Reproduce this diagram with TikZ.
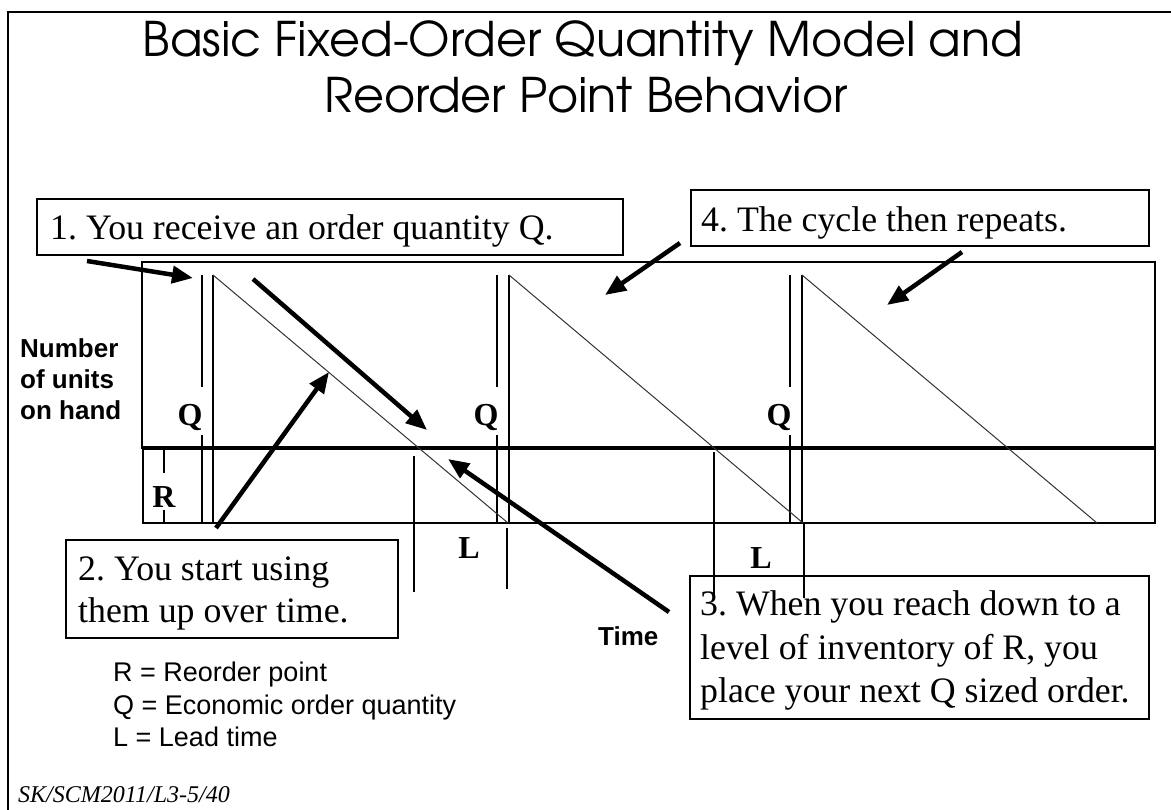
\documentclass[tikz,border=0pt]{standalone}
\usepackage{fontspec}
\setmainfont{Liberation Serif}
\newfontfamily\arialfont{Liberation Sans}
\newfontfamily\gothicfont{TeX Gyre Adventor}
\usetikzlibrary{arrows.meta}
\frenchspacing
\begin{document}
\begin{tikzpicture}[x=1pt,y=-1pt,
  boxframe/.style={draw, line width=1.6pt, inner sep=0pt, anchor=north west},
  boxtxt/.style={anchor=base west, inner sep=0pt, font=\fontsize{35.8}{42}\selectfont},
  lbl/.style={anchor=base, inner sep=0pt, font=\bfseries\fontsize{32}{36}\selectfont},
  sanstxt/.style={anchor=base west, inner sep=0pt, font=\arialfont\fontsize{27}{30}\selectfont},
  sansbold/.style={anchor=base west, inner sep=0pt, font=\arialfont\bfseries\fontsize{26}{30}\selectfont},
  titletxt/.style={anchor=base, inner sep=0pt, font=\gothicfont\fontsize{47.7}{55}\selectfont},
  chartline/.style={line width=1.5pt},
  vline/.style={line width=1.5pt},
  diag/.style={line width=1pt, black!80},
  bigarrow/.style={line width=4.5pt, -{Triangle[length=21pt,width=17pt]}},
]
\useasboundingbox (0,0) rectangle (1171,810);
% outer frame
\draw[line width=2pt] (8,810) -- (8,12) -- (1171,12);

% title
\node[titletxt] (t1) at (583,57) {Basic Fixed-Order Quantity Model and};
\node[titletxt] (t2) at (586,113) {Reorder Point Behavior};

% chart frame
\draw[chartline] (142,262) rectangle (1155,448);
\draw[chartline] (143,448) rectangle (1155,523);
\draw[line width=3.5pt] (142,448) -- (1155,448);

% order pairs
\foreach \xa/\xb in {202/213, 497/509, 790/802}{
  \draw[vline] (\xa,275) -- (\xa,387);
  \draw[vline] (\xa,435) -- (\xa,523);
  \draw[vline] (\xb,275) -- (\xb,523);
}
% diagonals
\draw[diag] (213,275) -- (508,523);
\draw[diag] (509,275) -- (803,523);
\draw[diag] (802,275) -- (1097,523);

% R marker
\draw[vline] (164,449) -- (164,473);
\draw[vline] (164,510) -- (164,523);
\node[lbl] (rlab) at (164,507) {R};

% Q labels
\node[lbl] (q1) at (190,426) {Q};
\node[lbl] (q2) at (486,426) {Q};
\node[lbl] (q3) at (779,426) {Q};

% lead time lines
\draw[vline] (414,456) -- (414,592);
\draw[vline] (507,528) -- (507,589);
\draw[vline] (714,452) -- (714,598);
\draw[vline] (804,524) -- (804,598);
\node[lbl] (l1) at (469,558) {L};
\node[lbl] (l2) at (761,568) {L};

% axis labels
\node[sansbold] (n1) at (20,358) {Number};
\node[sansbold] (n2) at (20,389) {of units};
\node[sansbold] (n3) at (20,420) {on hand};
\node[sansbold] (time) at (598,645) {Time};

% callout boxes
\node[boxframe, minimum width=586pt, minimum height=56pt] (b1) at (36,198) {};
\node[boxtxt] (b1t) at (50,240) {1. You receive an order quantity Q.};

\node[boxframe, minimum width=458pt, minimum height=56pt] (b4) at (690,189) {};
\node[boxtxt] (b4t) at (701,232) {4. The cycle then repeats.};

\node[boxframe, minimum width=332pt, minimum height=98pt] (b2) at (65,539) {};
\node[boxtxt] (b2t1) at (78,580) {2. You start using};
\node[boxtxt] (b2t2) at (78,622) {them up over time.};

\node[boxframe, minimum width=459pt, minimum height=143pt] (b3) at (689,575) {};
\node[boxtxt] (b3t1) at (700,615) {3. When you reach down to a};
\node[boxtxt] (b3t2) at (700,659) {level of inventory of R, you};
\node[boxtxt] (b3t3) at (700,702) {place your next Q sized order.};

% legend
\node[sanstxt] (lg1) at (113,681) {R = Reorder point};
\node[sanstxt] (lg2) at (113,714) {Q = Economic order quantity};
\node[sanstxt] (lg3) at (113,746) {L = Lead time};

% footer
\node[anchor=base west, inner sep=0pt, font=\itshape\fontsize{24}{28}\selectfont] (foot) at (18,802) {SK/SCM2011/L3-5/40};

% arrows
\coordinate (a1s) at (87,261);  \coordinate (a1e) at (193,278);
\coordinate (a2s) at (216,528); \coordinate (a2e) at (329,372);
\coordinate (a3s) at (253,279); \coordinate (a3e) at (427,430);
\coordinate (a4s) at (669,612); \coordinate (a4e) at (448,459);
\coordinate (a5s) at (680,243); \coordinate (a5e) at (605,295);
\coordinate (a6s) at (962,252); \coordinate (a6e) at (887,305);
\draw[bigarrow] (a1s) -- (a1e);
\draw[bigarrow] (a2s) -- (a2e);
\draw[bigarrow] (a3s) -- (a3e);
\draw[bigarrow] (a4s) -- (a4e);
\draw[bigarrow] (a5s) -- (a5e);
\draw[bigarrow] (a6s) -- (a6e);
\end{tikzpicture}
\end{document}
